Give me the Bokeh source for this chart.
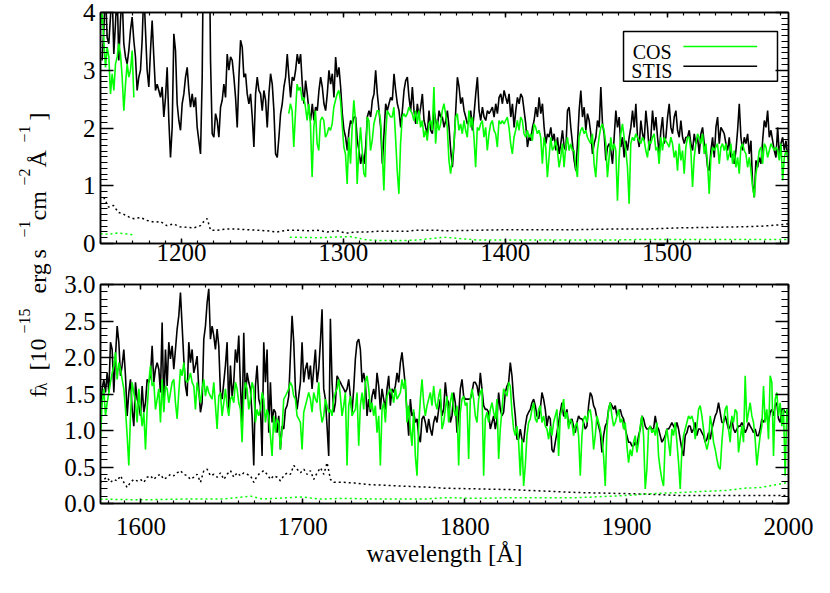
import numpy as np
from bokeh.plotting import figure
from bokeh.layouts import row, column
from bokeh.models import (Range1d, LinearAxis, FixedTicker, NumeralTickFormatter, BoxAnnotation,
                          Label, ColumnDataSource, CustomLabelingPolicy)
from bokeh.core.properties import value
from bokeh.embed import file_html
from bokeh.resources import INLINE

FONT = "Liberation Serif"
GREEN = "#00ff00"

# ---------------- data: top panel (1150-1575 A) ----------------
STIS_TOP_START, STIS_TOP_END = 1151.0, 1575.5
STIS_TOP = [
    3.17, 3.69, 4.4, 3.57, 3.46, 3.92, 4.4, 3.28, 3.80, 4.4,
    3.17, 3.86, 4.3, 3.46, 3.23, 3.11, 3.34, 3.69, 3.92, 3.52,
    3.23, 2.65, 2.88, 3.00, 3.52, 4.4, 3.69, 3.00, 2.71, 3.34,
    3.86, 3.23, 2.65, 2.76, 2.65, 2.53, 2.71, 2.19, 2.53, 3.05,
    2.13, 1.49, 2.01, 3.63, 3.34, 2.42, 2.13, 1.96, 2.42, 2.59,
    2.88, 3.05, 2.65, 2.36, 2.59, 2.36, 2.53, 2.01, 1.78, 1.55,
    2.88, 6.0, 9.0, 9.0, 6.0, 3.17, 1.90, 1.84, 2.25, 2.13,
    1.84, 2.36, 2.48, 2.76, 2.53, 3.28, 3.00, 3.23, 3.17, 2.88,
    2.53, 2.01, 2.88, 3.52, 3.40, 2.88, 2.94, 2.59, 2.42, 2.59,
    2.19, 1.67, 2.59, 2.88, 2.65, 2.59, 2.30, 2.65, 2.48, 2.01,
    2.59, 2.94, 2.76, 2.30, 1.55, 1.49, 1.84, 2.25, 2.42, 2.71,
    2.88, 3.28, 2.88, 2.53, 2.88, 2.82, 3.00, 3.28, 3.11, 3.28,
    2.76, 2.42, 2.82, 2.59, 2.30, 2.13, 2.42, 2.13, 2.36, 2.30,
    2.65, 2.88, 2.71, 2.42, 2.30, 2.59, 3.00, 2.76, 2.94, 2.53,
    3.23, 2.88, 3.05, 2.71, 2.25, 1.96, 1.84, 1.61, 1.96, 2.13,
    2.07, 2.19, 2.19, 1.78, 1.61, 1.38, 1.55, 1.38, 1.67, 2.19,
    2.30, 2.19, 2.48, 2.59, 3.00, 2.59, 2.30, 2.01, 1.38, 1.90,
    2.42, 2.30, 2.42, 2.53, 2.48, 2.94, 2.65, 2.42, 2.30, 2.01,
    2.30, 2.65, 2.82, 2.88, 2.53, 2.30, 2.71, 2.30, 2.07, 2.42,
    2.19, 2.36, 2.59, 2.13, 2.01, 1.90, 2.30, 1.96, 1.90, 2.30,
    2.13, 2.01, 2.30, 2.19, 2.19, 2.01,
    2.13, 2.30, 2.01, 1.61, 1.32, 1.73, 2.30, 2.88, 2.71, 2.42,
    2.53, 2.30, 2.19, 2.07, 2.13, 2.30, 1.96, 2.25, 2.59, 2.88,
    2.30, 2.13, 2.36, 2.19, 2.13, 2.30, 2.25, 2.30, 2.36, 2.19,
    2.42, 2.25, 2.53, 2.59, 2.42, 2.65, 2.53, 2.42, 2.59, 2.19,
    2.42, 2.01, 2.30, 2.53, 2.42, 2.59, 2.53, 2.30, 2.07, 1.67,
    1.84, 1.78, 2.01, 2.13, 2.36, 2.19, 2.53, 2.25, 2.42, 2.01,
    1.73, 1.90, 1.84, 2.01, 1.78, 1.90, 1.61, 1.84, 1.55, 1.73,
    1.96, 1.67, 1.61, 2.30, 2.36, 2.01, 1.73, 1.44, 1.26, 1.73,
    2.30, 2.65, 2.19, 2.36, 1.96, 2.25, 2.13, 1.90, 1.55, 1.73,
    1.84, 2.13, 2.01, 2.71, 2.07, 1.90, 1.44, 1.67, 1.73, 1.61,
    1.38, 1.84, 2.30, 2.01, 2.19, 1.67, 1.84, 1.49, 1.78, 1.61,
    1.84, 2.01, 2.30, 2.01, 2.42, 1.84, 1.67, 2.13, 1.90, 1.78,
    2.30, 2.01, 1.61, 1.84, 2.30, 1.96, 2.19, 1.84, 1.55, 1.96,
    2.19, 1.73, 1.84, 2.19, 2.42, 2.01, 1.90, 2.19, 2.30, 1.96,
    1.84, 2.13, 1.84, 1.73, 1.84, 1.84, 1.96, 1.73, 1.61, 1.90,
    1.73, 1.84, 1.55, 1.90, 2.01, 1.73, 1.61, 1.32, 1.26, 1.61,
    1.84, 1.49, 2.01, 2.19, 1.73, 2.01, 1.96, 1.90, 1.73, 1.61,
    1.84, 1.49, 1.55, 1.38, 1.61, 1.96, 2.42, 1.84, 1.61, 1.84,
    1.73, 1.90, 1.55, 1.78, 1.03, 0.80, 1.44, 1.32, 1.49, 1.38,
    1.78, 2.13, 2.01, 2.30, 1.84, 1.96, 1.78, 1.61, 1.49, 2.01,
    1.55, 1.73, 1.84, 1.61, 1.78, 1.49, 1.67,
]

COS_TOP_A_START, COS_TOP_A_END = 1150.0, 1170.6
COS_TOP_A = [3.80, 3.98, 3.52, 3.05, 3.40, 3.23, 2.59, 2.94, 2.65, 3.11,
             3.23, 3.46, 3.28, 2.88, 2.30, 2.76, 3.11, 2.88, 3.00, 3.34, 2.53]

COS_TOP_B_START, COS_TOP_B_END = 1266.3, 1575.5
COS_TOP_B = [
    2.25, 2.42, 2.30, 1.67, 2.25, 2.76, 2.65, 2.71, 2.48, 2.53,
    2.36, 2.13, 2.42, 2.07, 1.15, 2.01, 2.30, 1.73, 1.61, 2.13,
    2.19, 2.13, 1.84, 1.90, 2.01, 1.96, 2.07, 2.36, 2.48, 2.59,
    2.65, 2.48, 2.07, 1.67, 1.55, 1.03, 1.84, 1.38, 2.01, 2.48,
    2.13, 1.03, 1.61, 2.01, 1.61, 1.21, 1.15, 2.19, 2.13, 1.61,
    1.78, 2.07, 2.19, 2.30, 2.30, 2.13, 1.61, 0.92, 1.84, 2.30,
    2.25, 2.19, 2.19, 2.36, 1.84, 1.26, 0.86, 1.73, 2.19, 2.25,
    2.19, 2.25, 2.36, 2.30, 2.25, 2.13, 2.30, 2.07, 2.30, 2.01,
    2.13, 1.84, 1.96, 1.78, 2.07, 2.13, 1.96, 2.71, 1.73, 2.13,
    1.96, 2.07, 2.30, 2.42,
    2.25, 2.01, 1.44, 1.21, 1.44, 1.73, 2.19, 2.25, 1.96, 2.07,
    1.90, 2.13, 1.96, 1.84, 2.30, 2.01, 2.19, 1.84, 1.32, 2.01,
    1.96, 2.07, 2.13, 1.84, 2.01, 1.61, 1.90, 2.07, 2.13, 1.96,
    1.90, 1.67, 2.13, 2.07, 2.13, 2.07, 2.13, 2.19, 2.01, 1.73,
    1.55, 1.84, 1.96, 2.13, 1.96, 2.19, 2.13, 1.90, 1.84, 1.96,
    1.84, 1.90, 1.78, 2.07, 2.01, 1.90, 1.96, 1.84, 1.38, 1.84,
    1.67, 1.15, 1.49, 1.84, 1.61, 1.67, 1.78, 1.61, 1.32, 1.49,
    1.73, 1.32, 1.67, 1.84, 1.61, 1.73, 1.61, 1.61, 1.32, 1.15,
    1.84, 1.96, 2.01, 1.90, 1.96, 1.84, 1.78, 1.73, 1.90, 1.38,
    1.15, 1.61, 1.84, 2.01, 2.07, 1.96, 1.73, 1.15, 1.49, 1.84,
    1.61, 1.73, 1.61, 0.74, 1.49, 1.90, 2.07, 1.84, 1.61, 1.32,
    0.69, 1.73, 1.84, 1.78, 1.90, 1.84, 1.78, 1.73, 1.84, 1.78,
    1.61, 1.49, 1.78, 1.73, 1.84, 1.90, 1.61, 1.67, 1.38, 1.84,
    1.61, 1.84, 1.78, 1.73, 1.67, 1.84, 1.73, 1.49, 1.61, 1.26,
    1.73, 1.44, 1.61, 1.21, 1.67, 1.84, 1.84, 1.61, 0.98, 1.49,
    1.73, 1.90, 1.84, 1.73, 1.90, 1.55, 1.73, 1.38, 0.86, 1.49,
    1.67, 1.61, 1.67, 1.73, 1.38, 1.67, 1.73, 1.61, 1.73, 1.44,
    1.55, 1.73, 1.38, 1.61, 1.32, 1.49, 1.21, 1.67, 1.73, 1.61,
    1.55, 1.32, 1.49, 1.26, 0.98, 0.80, 1.21, 1.38, 1.61, 1.67,
    1.38, 1.73, 1.67, 1.49, 1.61, 1.73, 1.67, 1.61, 1.67, 1.61,
    1.44, 1.73, 1.09, 1.49, 1.61, 1.55, 1.21,
]

STIS_ERR_TOP_WL = [1152, 1155, 1158, 1161, 1164, 1167.5, 1170.6, 1174.7, 1178.8, 1183,
                   1187, 1191, 1195, 1199, 1203.5, 1207.6, 1211.8, 1213.8, 1215.9, 1218,
                   1222, 1228, 1234, 1240.6, 1246.8, 1253, 1259, 1265, 1271.5, 1277.6,
                   1283.8, 1290, 1296, 1302, 1308.5, 1314.7, 1321, 1327, 1333, 1339,
                   1345.6, 1351.8, 1358, 1362, 1383, 1403.7, 1424.3, 1444.9, 1465.4, 1486,
                   1506.6, 1527.2, 1547.8, 1558, 1568.4, 1575]
STIS_ERR_TOP = [0.80, 0.63, 0.66, 0.54, 0.51, 0.46, 0.43, 0.45, 0.40, 0.37,
                0.38, 0.31, 0.34, 0.29, 0.28, 0.27, 0.31, 0.38, 0.43, 0.23,
                0.23, 0.25, 0.25, 0.24, 0.23, 0.22, 0.20, 0.23, 0.23, 0.22,
                0.23, 0.20, 0.22, 0.18, 0.20, 0.20, 0.21, 0.21, 0.21, 0.21,
                0.23, 0.23, 0.23, 0.22, 0.23, 0.24, 0.24, 0.24, 0.25, 0.25,
                0.27, 0.28, 0.29, 0.30, 0.32, 0.34]

COS_ERR_TOP_A_WL = [1150, 1155, 1160, 1165, 1170]
COS_ERR_TOP_A = [0.17, 0.16, 0.18, 0.17, 0.15]
COS_ERR_TOP_B_WL = [1267, 1284, 1294, 1304, 1315, 1325, 1335, 1346, 1356, 1362, 1383,
                    1404, 1424, 1445, 1465, 1486, 1507, 1527, 1548, 1568, 1575]
COS_ERR_TOP_B = [0.11, 0.10, 0.11, 0.12, 0.06, 0.05, 0.05, 0.06, 0.09, 0.11, 0.06,
                 0.06, 0.06, 0.06, 0.06, 0.07, 0.07, 0.07, 0.07, 0.07, 0.07]

# ---------------- data: bottom panel (1575-2000 A) ----------------
STIS_BOT_START, STIS_BOT_END = 1575.0, 2000.0
STIS_BOT = [
    1.29, 1.57, 1.70, 1.52, 1.79, 1.52, 2.21, 2.11, 1.52, 2.02,
    2.43, 2.21, 1.75, 1.89, 2.11, 1.75, 1.20, 1.52, 1.70, 1.29,
    1.06, 1.66, 1.43, 1.34, 1.20, 1.61, 1.25, 1.38, 1.70, 1.66,
    1.75, 2.16, 1.66, 1.84, 1.93, 1.84, 1.52, 2.48, 1.29, 2.11,
    1.61, 2.21, 1.98, 2.16, 1.84, 2.11, 2.39, 2.57, 2.89, 2.43,
    1.98, 1.61, 1.47, 2.21, 1.93, 2.11, 1.79, 1.89, 2.02, 1.57,
    1.25, 1.38, 2.25, 2.43, 2.75, 2.94, 2.25, 2.43, 2.30, 2.11,
    2.39, 2.16, 1.52, 1.43, 1.66, 1.89, 2.21, 1.29, 1.89, 1.47,
    1.66, 2.11, 1.93, 2.30, 1.61, 1.11, 2.34, 1.43, 1.79, 1.66,
    1.57, 1.20, 0.52, 1.61, 1.89, 1.43, 1.34, 0.65, 2.21, 1.66,
    2.11, 0.97, 1.66, 1.11, 1.29, 1.25, 0.97, 1.20, 0.74, 1.06,
    1.02, 1.29, 1.34, 1.47, 2.02, 2.57, 2.21, 1.57, 1.29, 1.47,
    1.66, 2.21, 1.66, 1.84, 1.93, 1.70, 1.89, 1.57, 1.84, 2.11,
    1.66, 1.84, 2.21, 2.66, 1.57, 1.43, 1.06, 0.65, 2.53, 1.66,
    1.25, 1.38, 1.75, 1.70, 1.66, 1.61, 1.57, 1.52, 1.57, 1.70,
    1.47, 1.25, 1.57, 1.98, 2.21, 2.25, 2.11, 1.66, 1.79, 1.66,
    1.20, 1.43, 1.25, 1.47, 1.57, 1.43, 1.79, 1.61, 1.29, 1.57,
    1.43, 1.29, 1.57, 1.75, 1.34, 1.57, 1.52, 1.61, 1.79, 1.66,
    1.93, 2.07, 1.84, 1.61, 1.25, 0.93, 1.43, 1.20, 1.25, 1.11,
    1.16, 0.93, 0.84, 1.16, 1.20, 1.11, 0.97, 1.16, 1.02, 0.93,
    1.11, 1.20, 1.11, 1.29, 1.43, 1.20, 1.29,
    1.66, 1.43, 1.38, 1.11, 1.20, 1.52, 1.38, 0.97, 1.20, 1.57,
    1.70, 1.47, 1.43, 1.43, 1.43, 1.43, 1.52, 1.66, 1.66, 1.61,
    1.47, 1.79, 1.57, 1.34, 1.29, 1.29, 1.25, 1.02, 1.11, 1.20,
    1.02, 1.16, 1.52, 1.29, 1.20, 1.25, 1.52, 1.61, 1.66, 1.93,
    1.75, 1.43, 1.20, 0.88, 0.88, 1.02, 0.88, 0.84, 1.06, 1.20,
    1.25, 1.29, 1.38, 1.43, 1.34, 1.20, 1.16, 1.29, 1.52, 1.43,
    1.29, 1.06, 1.20, 1.16, 0.74, 0.70, 0.84, 0.97, 1.11, 1.25,
    1.38, 1.20, 1.20, 1.29, 1.06, 1.11, 1.16, 1.06, 0.97, 1.11,
    1.20, 1.16, 1.16, 1.11, 1.02, 1.06, 1.34, 1.52, 1.47, 1.34,
    1.29, 1.16, 1.06, 0.97, 0.70, 0.93, 1.06, 1.11, 1.29, 1.38,
    1.34, 1.29, 1.34, 1.20, 1.25, 1.29, 1.20, 1.16, 1.02, 0.93,
    0.84, 0.84, 0.79, 0.79, 0.84, 0.79, 0.93, 1.02, 1.20, 1.16,
    1.06, 1.02, 1.02, 1.06, 1.02, 1.02, 1.20, 1.06, 1.02, 0.93,
    0.84, 0.88, 0.93, 1.02, 1.02, 1.06, 1.11, 1.06, 1.02, 1.11,
    1.02, 0.88, 0.74, 0.65, 0.93, 0.97, 1.06, 1.06, 0.97, 1.02,
    1.11, 0.93, 1.02, 1.02, 0.97, 0.93, 0.84, 0.88, 0.97, 0.88,
    1.02, 1.11, 1.20, 1.25, 1.38, 1.25, 1.11, 1.11, 1.20, 1.11,
    1.02, 1.06, 1.16, 1.02, 0.97, 1.02, 1.06, 1.06, 1.11, 1.06,
    0.97, 1.02, 1.11, 1.06, 1.02, 0.97, 1.02, 0.93, 0.93, 1.02,
    1.16, 1.11, 1.16, 1.20, 1.11, 1.25, 1.29, 1.20, 1.34, 1.38,
    1.16, 1.11, 1.29, 1.29, 1.25, 1.25, 1.20,
]

COS_BOT_START, COS_BOT_END = 1575.0, 2000.0
COS_BOT = [
    0.88, 1.38, 1.57, 1.20, 1.38, 1.52, 1.66, 1.79, 1.89, 2.07,
    1.70, 1.93, 1.84, 1.70, 1.57, 1.29, 0.93, 0.52, 1.20, 1.66,
    1.52, 1.38, 1.11, 1.57, 1.29, 1.06, 1.25, 0.74, 1.29, 1.66,
    1.89, 1.61, 1.66, 1.29, 1.43, 1.57, 1.11, 1.70, 1.25, 1.61,
    1.57, 1.38, 1.52, 1.66, 1.70, 1.38, 1.16, 1.52, 1.84, 1.75,
    1.93, 1.70, 1.66, 1.70, 1.79, 1.66, 1.61, 1.29, 1.66, 1.52,
    1.38, 1.57, 1.70, 1.47, 1.61, 1.52, 1.47, 1.43, 1.66, 1.34,
    1.02, 1.47, 1.52, 1.20, 1.38, 1.57, 1.34, 1.20, 1.43, 1.47,
    1.38, 1.66, 1.57, 1.38, 1.29, 0.84, 1.47, 1.66, 1.57, 1.29,
    1.43, 1.66, 1.57, 1.11, 1.29, 1.20, 1.29, 1.52, 1.43, 1.11,
    1.29, 1.20, 0.93, 0.65, 1.20, 0.97, 1.16, 1.11, 0.74, 1.02,
    1.43, 1.47, 1.52, 1.57, 1.66, 1.61, 1.47, 1.43, 1.20, 1.16,
    1.11, 0.74, 1.25, 1.34, 1.43, 1.52, 1.43, 1.25, 1.52, 1.43,
    1.38, 1.66, 1.29, 1.11, 1.20, 1.43, 1.34, 1.25, 1.29, 1.20,
    1.43, 1.52, 1.57, 1.70, 1.47, 1.20, 1.34, 1.52, 0.52, 1.34,
    1.47, 1.20, 1.25, 1.29, 1.52, 0.79, 1.34, 1.52, 1.29, 1.66,
    1.75, 1.57, 1.29, 1.38, 1.20, 1.34, 0.97, 1.20, 0.52, 1.29,
    1.38, 1.11, 1.47, 1.52, 1.57, 1.52, 1.38, 1.57, 1.43, 1.47,
    1.52, 1.70, 1.57, 1.70, 1.11, 1.34, 1.02, 0.79, 1.29, 0.65,
    0.38, 1.06, 1.43, 1.70, 1.38, 1.20, 1.34, 1.43, 1.52, 1.34,
    1.61, 1.38, 1.29, 1.47, 1.57, 1.02, 1.11,
    1.29, 1.47, 1.11, 1.38, 1.52, 1.29, 1.20, 1.34, 0.52, 1.25,
    1.43, 1.47, 1.34, 1.38, 0.61, 1.43, 1.57, 1.43, 1.20, 1.11,
    1.43, 1.52, 1.57, 0.38, 1.16, 1.25, 1.11, 1.29, 1.38, 1.25,
    1.16, 1.43, 0.61, 1.02, 1.29, 1.57, 1.52, 1.47, 1.66, 1.61,
    1.25, 1.02, 0.93, 1.06, 0.84, 0.38, 0.88, 0.24, 0.52, 0.93,
    1.11, 1.16, 1.29, 1.38, 1.16, 1.11, 1.29, 1.34, 1.11, 1.20,
    1.06, 1.02, 0.88, 1.06, 0.93, 1.11, 1.20, 1.29, 0.65, 1.20,
    1.29, 1.43, 1.16, 1.25, 1.02, 1.16, 1.11, 0.93, 1.06, 1.11,
    0.93, 0.38, 0.93, 1.16, 1.20, 1.11, 1.25, 1.29, 1.11, 0.74,
    0.93, 1.20, 1.11, 1.02, 0.88, 0.65, 0.24, 1.02, 1.29, 1.38,
    1.20, 1.06, 1.11, 1.20, 1.29, 1.11, 1.16, 1.02, 1.11, 0.79,
    0.56, 0.74, 0.65, 0.84, 0.93, 0.70, 0.84, 1.06, 1.20, 0.93,
    0.20, 0.47, 1.02, 1.06, 0.97, 1.02, 0.93, 1.11, 0.65, 0.47,
    0.33, 0.24, 0.88, 1.02, 0.84, 0.65, 1.02, 0.93, 1.11, 0.84,
    0.56, 0.20, 0.74, 0.93, 1.02, 1.11, 1.20, 1.16, 1.20, 1.11,
    0.88, 1.06, 1.29, 1.34, 1.20, 1.02, 0.84, 0.74, 0.84, 1.20,
    1.06, 0.84, 0.74, 0.61, 0.50, 0.47, 0.84, 1.11, 1.29, 1.34,
    1.02, 0.84, 1.20, 1.11, 1.29, 1.25, 0.70, 0.88, 1.06, 0.84,
    1.75, 1.11, 1.25, 1.38, 1.20, 1.11, 0.88, 0.52, 0.74, 0.93,
    1.06, 1.61, 1.11, 1.29, 0.88, 1.75, 1.66, 0.65, 1.43, 1.52,
    1.20, 1.38, 1.06, 1.29, 0.38, 1.29, 1.11,
]

STIS_ERR_BOT_A_START, STIS_ERR_BOT_A_END = 1575.0, 1719.1
STIS_ERR_BOT_A = [
    0.29, 0.33, 0.36, 0.29, 0.33, 0.31, 0.38, 0.29, 0.22, 0.29,
    0.33, 0.31, 0.33, 0.29, 0.36, 0.38, 0.33, 0.38, 0.40, 0.33,
    0.36, 0.40, 0.38, 0.42, 0.45, 0.40, 0.38, 0.33, 0.36, 0.40,
    0.29, 0.45, 0.47, 0.38, 0.40, 0.36, 0.42, 0.33, 0.40, 0.45,
    0.36, 0.42, 0.38, 0.42, 0.40, 0.38, 0.29, 0.38, 0.42, 0.45,
    0.40, 0.33, 0.38, 0.36, 0.31, 0.38, 0.42, 0.40, 0.52, 0.47,
    0.42, 0.47, 0.40, 0.45, 0.33, 0.42, 0.49, 0.40, 0.56, 0.33,
    0.29,
]
STIS_ERR_BOT_B_WL = [1725, 1732, 1740, 1750, 1760, 1770, 1781, 1787, 1808, 1829,
                     1849, 1870, 1890, 1911, 1932, 1952, 1973, 1993, 2000]
STIS_ERR_BOT_B = [0.29, 0.28, 0.26, 0.25, 0.24, 0.23, 0.22, 0.21, 0.20, 0.19,
                  0.17, 0.15, 0.14, 0.13, 0.11, 0.11, 0.11, 0.11, 0.11]

COS_ERR_BOT_WL = [1575, 1600, 1625, 1650, 1668, 1675, 1700, 1710, 1725, 1750,
                  1775, 1788, 1808, 1829, 1849, 1870, 1890, 1901, 1911, 1921,
                  1932, 1942, 1952, 1962, 1973, 1983, 1993, 2000]
COS_ERR_BOT = [0.06, 0.05, 0.06, 0.06, 0.10, 0.06, 0.09, 0.06, 0.07, 0.06,
               0.06, 0.08, 0.07, 0.08, 0.08, 0.08, 0.10, 0.11, 0.13, 0.14,
               0.15, 0.16, 0.17, 0.18, 0.21, 0.22, 0.26, 0.29]

# ticks and labels
TOP_XTICKS = [1200, 1300, 1400, 1500]
BOT_XTICKS = [1600, 1700, 1800, 1900, 2000]
TOP_YTICKS = [0, 1, 2, 3, 4]
BOT_YTICKS = [0.0, 0.5, 1.0, 1.5, 2.0, 2.5, 3.0]
LEGEND_LABELS = ["COS", "STIS"]
LEGEND_COLORS = [GREEN, "black"]
X_TITLE = "wavelength [Å]"

NO_LABELS = CustomLabelingPolicy(code="for (const i of indices) { indices.unset(i) } return indices")


def style_axis(ax, tick_in, minor_in, labels=True, standoff=5):
    ax.major_tick_in = tick_in
    ax.major_tick_out = 0
    ax.minor_tick_in = minor_in
    ax.minor_tick_out = 0
    ax.axis_line_color = "black"
    ax.axis_line_width = 1.5
    ax.major_tick_line_color = "black"
    ax.major_tick_line_width = 1.5
    ax.minor_tick_line_color = "black"
    ax.minor_tick_line_width = 1.2
    ax.major_label_text_font = FONT
    ax.major_label_text_color = "black"
    if labels:
        ax.major_label_text_font_size = "25px"
        ax.major_label_standoff = standoff
    else:
        ax.major_label_text_font_size = "1px"
        ax.major_label_standoff = 0
        ax.major_label_policy = NO_LABELS


def make_panel(xr, yr, xticks, xminor, yticks, yminor, height, b_top, b_bottom, x_standoff):
    p = figure(width=760, height=height, x_range=Range1d(*xr), y_range=Range1d(*yr),
               output_backend="svg", toolbar_location=None,
               x_axis_location=None, y_axis_location=None,
               min_border_left=42, min_border_right=30,
               min_border_top=b_top, min_border_bottom=b_bottom)
    p.xgrid.visible = False
    p.ygrid.visible = False
    p.outline_line_color = "black"
    p.outline_line_width = 1.5
    p.background_fill_color = "white"
    p.border_fill_color = "white"
    axes = {}
    for side, ticks, minor, tin, mino, lab, so in [
        ("below", xticks, xminor, 5, 3, True, x_standoff),
        ("left", yticks, yminor, 13, 7, True, 5),
        ("above", xticks, xminor, 5, 3, False, 0),
        ("right", yticks, yminor, 13, 7, False, 0),
    ]:
        ax = LinearAxis(ticker=FixedTicker(ticks=ticks, minor_ticks=minor))
        style_axis(ax, tin, mino, labels=lab, standoff=so)
        p.add_layout(ax, side)
        axes[side] = ax
    return p, axes


top_minor_x = list(np.arange(1150, 1580, 10))
bot_minor_x = list(np.arange(1580, 2001, 10))
top, top_axes = make_panel((1150, 1575), (0, 4), TOP_XTICKS, top_minor_x,
                           TOP_YTICKS, list(np.round(np.arange(0, 4.01, 0.1), 2)),
                           272, 12, 29, 0)
bot, bot_axes = make_panel((1575, 2000), (0, 3.0), BOT_XTICKS, bot_minor_x,
                           BOT_YTICKS, list(np.round(np.arange(0, 3.01, 0.1), 2)),
                           313, 12, 82, 14)
bot_axes["left"].formatter = NumeralTickFormatter(format="0.0")

bx = bot_axes["below"]
bx.axis_label = X_TITLE
bx.axis_label_text_font = FONT
bx.axis_label_text_font_size = "25px"
bx.axis_label_text_font_style = "normal"
bx.axis_label_text_color = "black"
bx.axis_label_standoff = 2

LW = 1.6
DOT = "2 3"

# top panel lines
top.line(np.linspace(STIS_TOP_START, STIS_TOP_END, len(STIS_TOP)), STIS_TOP, line_color="black", line_width=LW)
top.line(np.linspace(COS_TOP_A_START, COS_TOP_A_END, len(COS_TOP_A)), COS_TOP_A, line_color=GREEN, line_width=LW)
top.line(np.linspace(COS_TOP_B_START, COS_TOP_B_END, len(COS_TOP_B)), COS_TOP_B, line_color=GREEN, line_width=LW)
top.line(STIS_ERR_TOP_WL, STIS_ERR_TOP, line_color="black", line_width=1.5, line_dash=DOT)
top.line(COS_ERR_TOP_A_WL, COS_ERR_TOP_A, line_color=GREEN, line_width=1.5, line_dash=DOT)
top.line(COS_ERR_TOP_B_WL, COS_ERR_TOP_B, line_color=GREEN, line_width=1.5, line_dash=DOT)

# bottom panel lines
bot.line(np.linspace(STIS_BOT_START, STIS_BOT_END, len(STIS_BOT)), STIS_BOT, line_color="black", line_width=LW)
bot.line(np.linspace(COS_BOT_START, COS_BOT_END, len(COS_BOT)), COS_BOT, line_color=GREEN, line_width=LW)
stis_err_bot_wl = list(np.linspace(STIS_ERR_BOT_A_START, STIS_ERR_BOT_A_END, len(STIS_ERR_BOT_A))) + STIS_ERR_BOT_B_WL
bot.line(stis_err_bot_wl, STIS_ERR_BOT_A + STIS_ERR_BOT_B, line_color="black", line_width=1.5, line_dash=DOT)
bot.line(COS_ERR_BOT_WL, COS_ERR_BOT, line_color=GREEN, line_width=1.5, line_dash=DOT)

# legend (label first, then line sample) in the top panel, positioned by range fractions
X0, X1 = 1150, 1575
Y0, Y1 = 0, 4
def fx(f):
    return X0 + f * (X1 - X0)
def fy(f):
    return Y0 + f * (Y1 - Y0)
top.add_layout(BoxAnnotation(left=fx(0.7602), right=fx(0.9840), bottom=fy(0.7025), top=fy(0.9175),
                             fill_color="white", fill_alpha=1.0, line_color="black", line_alpha=1.0,
                             line_width=1.5, level="underlay"))
for i, (lab_txt, col) in enumerate(zip(LEGEND_LABELS, LEGEND_COLORS)):
    ty = fy(0.8275 - i * 0.0825)
    ly = fy(0.8525 - i * 0.085)
    top.add_layout(Label(x=fx(0.7735 - i * 0.002), y=ty, text=lab_txt, text_font=FONT,
                         text_font_size="20px", text_color="black", text_baseline="alphabetic"))
    top.line([fx(0.8472), fx(0.9544)], [ly, ly], line_color=col, line_width=1.5)

# shared y-axis title, drawn as separate text runs in a narrow strip
lab = figure(width=58, height=585, x_range=Range1d(0, 58), y_range=Range1d(0, 585),
             output_backend="svg", toolbar_location=None, min_border=0,
             x_axis_location=None, y_axis_location=None)
lab.xgrid.visible = False
lab.ygrid.visible = False
lab.outline_line_color = None
main_src = ColumnDataSource(dict(x=[37, 37, 37, 37, 37, 37, 37],
                                 y=[188, 215, 292, 327, 365, 418, 465],
                                 t=["f", "[10", "erg", "s", "cm", "Å", "]"]))
small_src = ColumnDataSource(dict(x=[41, 24, 24, 24, 24],
                                  y=[195, 252, 348, 400, 443],
                                  t=["λ", "−15", "−1", "−2", "−1"]))
lab.text(x="x", y="y", text="t", source=main_src, angle=np.pi / 2,
         text_font=value(FONT), text_font_size=value("24px"), text_color="black",
         text_align="left", text_baseline="alphabetic")
lab.text(x="x", y="y", text="t", source=small_src, angle=np.pi / 2,
         text_font=value(FONT), text_font_size=value("16px"), text_color="black",
         text_align="left", text_baseline="alphabetic")

layout = row(lab, column(top, bot))
open("out.html", "w").write(file_html(layout, INLINE))
